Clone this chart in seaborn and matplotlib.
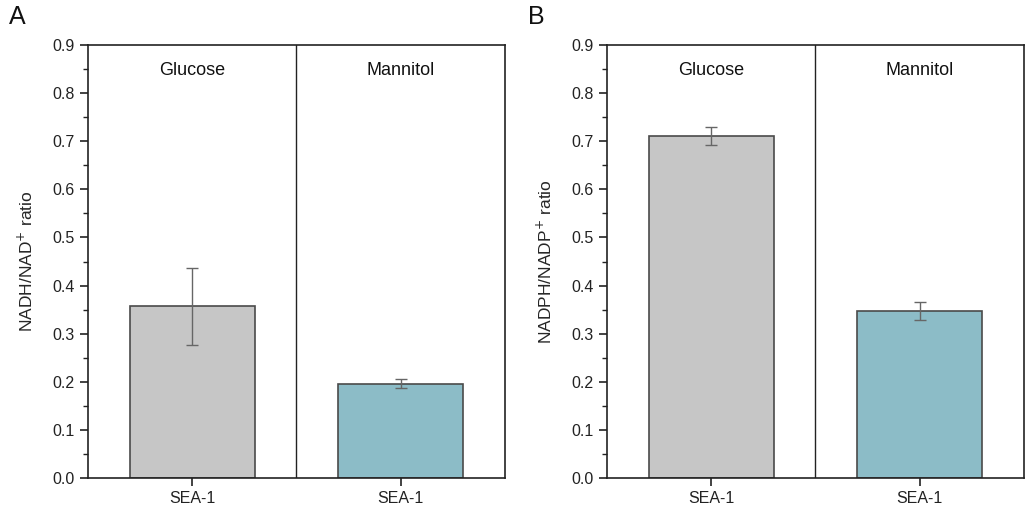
import matplotlib
matplotlib.use("Agg")
import matplotlib.pyplot as plt
from matplotlib.ticker import MultipleLocator
import seaborn as sns
import pandas as pd

conditions = ["Glucose", "Mannitol"]
strain_labels = ["SEA-1", "SEA-1"]
nadh_ratio = [0.357, 0.196]
nadh_err = [0.080, 0.009]
nadph_ratio = [0.711, 0.347]
nadph_err = [0.018, 0.018]
bar_colors = ["#C6C6C6", "#8CBCC7"]

sns.set_theme(style="ticks")
plt.rcParams["font.family"] = ["Liberation Sans", "DejaVu Sans"]

fig = plt.figure(figsize=(10.28, 5.21), dpi=100)
axA = fig.add_axes([0.0856, 0.0825, 0.4055, 0.8311])
axB = fig.add_axes([0.5905, 0.0825, 0.4055, 0.8311])

panels = [
    (axA, nadh_ratio, nadh_err, "NADH/NAD$^{+}$ ratio", "A"),
    (axB, nadph_ratio, nadph_err, "NADPH/NADP$^{+}$ ratio", "B"),
]

for ax, vals, errs, ylabel, letter in panels:
    df = pd.DataFrame({"cond": conditions, "val": vals})
    sns.barplot(data=df, x="cond", y="val", hue="cond", palette=bar_colors,
                legend=False, width=0.6, edgecolor="#4a4a4a", linewidth=1.2,
                saturation=1, ax=ax, errorbar=None)
    ax.errorbar(range(len(vals)), vals, yerr=errs, fmt="none",
                ecolor="#666666", elinewidth=1.0, capsize=4, capthick=1.0)
    ax.set_xlim(-0.5, 1.5)
    ax.set_ylim(0, 0.9)
    ax.yaxis.set_minor_locator(MultipleLocator(0.05))
    ax.set_yticks([i / 10 for i in range(10)])
    ax.set_yticklabels([f"{i/10:.1f}" for i in range(10)])
    ax.set_xticks([0, 1])
    ax.set_xticklabels(strain_labels)
    ax.set_xlabel("")
    ax.set_ylabel(ylabel, fontsize=12.5, labelpad=12)
    ax.axvline(0.5, color="#222222", linewidth=1.0)
    for sp in ax.spines.values():
        sp.set_visible(True)
        sp.set_color("#222222")
        sp.set_linewidth(1.2)
    ax.tick_params(axis="both", which="major", direction="out", length=6,
                   width=1.2, labelsize=11.5, colors="#222222",
                   top=False, right=False)
    ax.tick_params(axis="y", which="minor", direction="out", length=3.5,
                   width=1.0, colors="#222222", right=False)
    for i, c in enumerate(conditions):
        ax.text(i, 0.942, c, transform=ax.get_xaxis_transform(),
                ha="center", va="center", fontsize=13, color="#111111")
    ax.text(-0.19, 1.065, letter, transform=ax.transAxes, fontsize=18,
            ha="left", va="center", color="#111111")

fig.savefig("out.png", dpi=100)
